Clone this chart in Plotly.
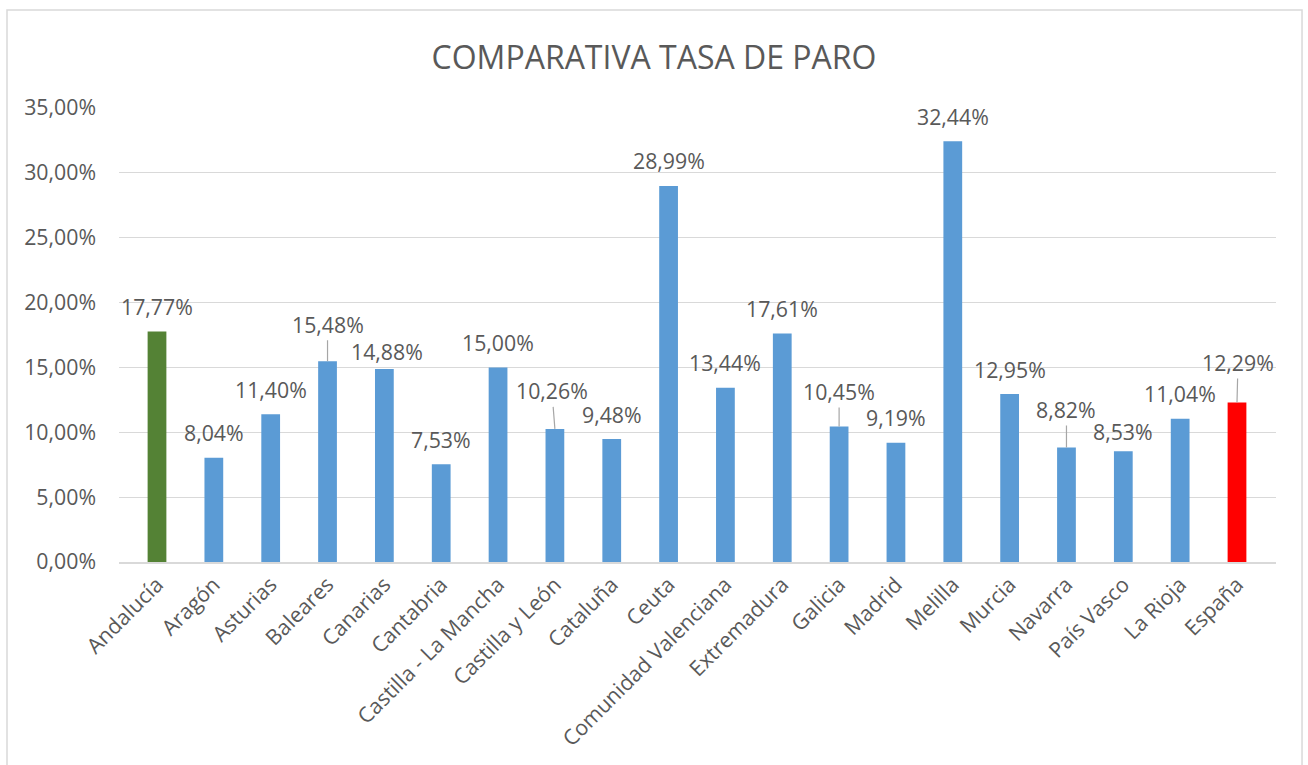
import plotly.graph_objects as go

# --- Data ---
REGIONES = ['Andalucía', 'Aragón', 'Asturias', 'Baleares', 'Canarias', 'Cantabria',
            'Castilla - La Mancha', 'Castilla y León', 'Cataluña', 'Ceuta',
            'Comunidad Valenciana', 'Extremadura', 'Galicia', 'Madrid', 'Melilla',
            'Murcia', 'Navarra', 'País Vasco', 'La Rioja', 'España']
TASA_PARO = [0.1777, 0.0804, 0.1140, 0.1548, 0.1488, 0.0753, 0.1500, 0.1026, 0.0948, 0.2899,
             0.1344, 0.1761, 0.1045, 0.0919, 0.3244, 0.1295, 0.0882, 0.0853, 0.1104, 0.1229]
Y_TICKS = [0, 0.05, 0.10, 0.15, 0.20, 0.25, 0.30, 0.35]

# --- Style ---
BLUE, GREEN, RED = '#5B9BD5', '#548235', '#FF0000'
TEXT = '#595959'
GRID = '#D9D9D9'
FONT = 'Open Sans'
FS = 21.3

colors = [GREEN if r == 'Andalucía' else RED if r == 'España' else BLUE for r in REGIONES]

# labels that Excel moved away from the bar (dx, dy in px) -> drawn with a leader line
LEADER = {'Baleares': (0, -37), 'Castilla y León': (-3, -38), 'Galicia': (0, -35),
          'Navarra': (0, -38), 'España': (1, -40)}
# small nudges for the other labels
NUDGE = {'Canarias': (3, 17), 'País Vasco': (0, 20)}

fig = go.Figure(go.Bar(
    x=REGIONES, y=TASA_PARO,
    marker=dict(color=colors, line=dict(width=0)),
    hoverinfo='x+y',
))

for reg, val in zip(REGIONES, TASA_PARO):
    txt = f'{val * 100:.2f}%'.replace('.', ',')
    if reg in LEADER:
        dx, dy = LEADER[reg]
        fig.add_annotation(x=reg, y=val, text=txt, showarrow=True, arrowhead=0,
                           arrowwidth=1.2, arrowcolor='#A6A6A6', ax=dx, ay=dy,
                           standoff=0, font=dict(size=FS, color=TEXT, family=FONT))
    else:
        dx, dy = NUDGE.get(reg, (0, 25))
        fig.add_annotation(x=reg, y=val, text=txt, showarrow=False,
                           xshift=dx, yshift=dy,
                           font=dict(size=FS, color=TEXT, family=FONT))

# chart area border like Excel
fig.add_shape(type='rect', xref='paper', yref='paper',
              x0=-0.0968, x1=1.0225, y0=-0.6, y1=1.2159,
              line=dict(color=GRID, width=1.5), fillcolor='rgba(0,0,0,0)', layer='below')

fig.update_layout(
    width=1308, height=765,
    margin=dict(l=119, r=32, t=108, b=203),
    paper_bgcolor='white', plot_bgcolor='white',
    separators=',.',
    bargap=0.67,
    showlegend=False,
    font=dict(family=FONT, color=TEXT, size=FS),
    title=dict(text='COMPARATIVA TASA DE PARO', x=0.5, xanchor='center',
               y=0.925, yanchor='middle',
               font=dict(size=32, color=TEXT, family=FONT)),
    xaxis=dict(tickangle=-45, showgrid=False, showline=True, linecolor=GRID, linewidth=1.5,
               ticks='', tickfont=dict(size=FS, color=TEXT)),
    yaxis=dict(range=[0, 0.35], tickvals=Y_TICKS, tickformat='.2%', showgrid=True,
               gridcolor=GRID, gridwidth=1.2, zeroline=False, showline=False,
               ticks='', ticklabelstandoff=22, tickfont=dict(size=FS, color=TEXT)),
)

# drop the default 8px body margin so the figure sits at the page corner
fig.write_html('out.html', config={'displayModeBar': False},
               post_script="document.body.style.margin='0';")
